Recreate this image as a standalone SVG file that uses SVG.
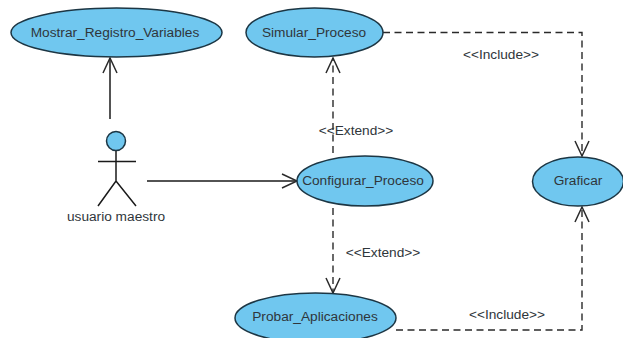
<svg xmlns="http://www.w3.org/2000/svg" width="623" height="338" viewBox="0 0 623 338">
<style>
text{font-family:"Liberation Sans",Arial,sans-serif;font-size:13.700px;fill:#2f363b;text-anchor:middle}
.uc{fill:#70c7ef;stroke:#1c3644;stroke-width:1.500}
.ln{fill:none;stroke:#1a1a1a;stroke-width:1.500}
.da{fill:none;stroke:#2a2a2a;stroke-width:1.400;stroke-dasharray:7 4.500}
.hd{fill:none;stroke:#2a2a2a;stroke-width:1.500}
</style>
<defs>
<marker id="open" markerUnits="userSpaceOnUse" markerWidth="20" markerHeight="20" refX="15" refY="8" orient="auto" overflow="visible">
<path class="hd" d="M0 1L15 8L0 15"/>
</marker>
</defs>
<rect width="623" height="338" fill="#fff"/>
<g id="connectors">
<path class="ln" marker-end="url(#open)" d="M110 119V58"/>
<path class="ln" marker-end="url(#open)" d="M147 181H297"/>
<path class="da" marker-end="url(#open)" d="M383 32.500H582V156"/>
<path class="da" marker-end="url(#open)" d="M333 153V58"/>
<path class="da" marker-end="url(#open)" d="M333 208V293"/>
<path class="da" marker-end="url(#open)" d="M396 330H582V207"/>
<text x="501" y="59">&lt;&lt;Include&gt;&gt;</text>
<text x="356" y="135">&lt;&lt;Extend&gt;&gt;</text>
<text x="383" y="257">&lt;&lt;Extend&gt;&gt;</text>
<text x="507" y="319">&lt;&lt;Include&gt;&gt;</text>
</g>
<g id="mostrar"><ellipse class="uc" cx="116.500" cy="32.500" rx="105.500" ry="24.500"/><text x="115" y="37">Mostrar_Registro_Variables</text></g>
<g id="simular"><ellipse class="uc" cx="314.500" cy="32.500" rx="68.500" ry="24.500"/><text x="314" y="37">Simular_Proceso</text></g>
<g id="configurar"><ellipse class="uc" cx="365" cy="181" rx="68" ry="25"/><text x="363" y="185">Configurar_Proceso</text></g>
<g id="graficar"><ellipse class="uc" cx="578" cy="181.500" rx="45.500" ry="24.500"/><text x="578" y="185">Graficar</text></g>
<g id="probar"><ellipse class="uc" cx="315.500" cy="318" rx="80.500" ry="25"/><text x="315" y="321">Probar_Aplicaciones</text></g>
<g id="actor">
<circle class="uc" cx="116" cy="141" r="9.500"/>
<path class="ln" d="M116 151V181M98 161.500H136M98 206L116 181L136 206"/>
<text x="116" y="221">usuario maestro</text>
</g>
</svg>
